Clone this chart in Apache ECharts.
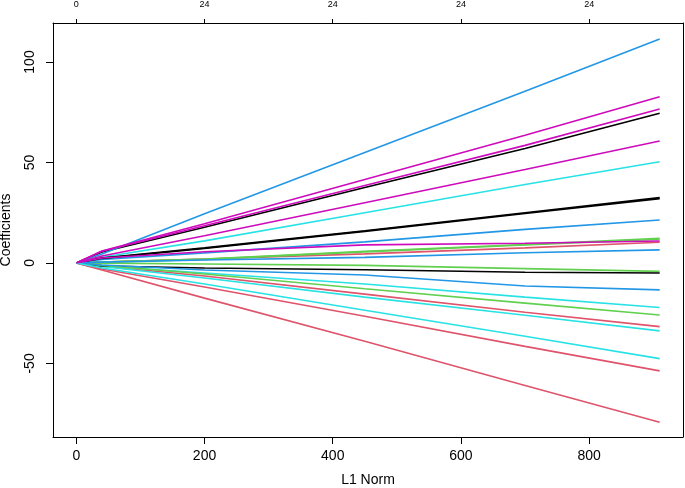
<!DOCTYPE html>
<html>
<head>
<meta charset="utf-8">
<script src="https://cdn.jsdelivr.net/npm/echarts@6/dist/echarts.min.js"></script>
<style>html,body{margin:0;padding:0;background:#fff}#c{width:685px;height:488px}</style>
</head>
<body>
<div id="c"></div>
<script>
// L1 norm positions where the coefficient path is sampled
var l1Norm = [0, 40, 200, 450, 700, 910];
// Bottom / top axis tick values and degrees-of-freedom labels
var xTicks = [0, 200, 400, 600, 800];
var dfLabels = ['0', '24', '24', '24', '24'];
var yTicks = [-50, 0, 50, 100];

// Coefficient paths (value at each l1Norm point), R matplot colour cycle
var pathColors = ['#000000', '#DF536B', '#61D04F', '#2297E6', '#28E2E5', '#CD0BBC'];
var coefBlack1 = [0, 5.5, 17.8, 37.5, 57.0, 74.5];
var coefBlack2 = [0, 2.5, 7.5, 16.0, 25.0, 32.5];
var coefBlack3 = [0, 2.3, 7.2, 15.7, 24.6, 32.0];
var coefBlack4 = [0, -1.5, -2.5, -3.4, -4.6, -5.0];
var coefRed1 = [0, 0.5, 2.0, 4.5, 7.5, 10.3];
var coefRed2 = [0, -1.5, -6.5, -15.5, -24.5, -31.7];
var coefRed3 = [0, -3.0, -12.0, -26.5, -41.5, -53.7];
var coefRed4 = [0, -3.5, -17.5, -39.0, -61.0, -79.3];
var coefGreen1 = [0, 0.4, 2.0, 5.8, 9.2, 12.3];
var coefGreen2 = [0, 0.4, 1.8, 5.5, 8.9, 11.8];
var coefGreen3 = [0, -0.1, -0.5, -1.2, -2.8, -4.2];
var coefGreen4 = [0, -1.2, -5.5, -12.8, -20.0, -25.9];
var coefBlue1 = [0, 4.5, 24.5, 55.0, 85.5, 111.4];
var coefBlue2 = [0, 1.8, 5.0, 10.5, 16.7, 21.4];
var coefBlue3 = [0, 0.4, 1.5, 2.8, 5.1, 6.5];
var coefBlue4 = [0, -1.0, -3.5, -6.0, -11.5, -13.4];
var coefCyan1 = [0, 2.8, 11.0, 25.0, 39.0, 50.4];
var coefCyan2 = [0, -1.5, -5.0, -10.5, -17.0, -22.2];
var coefCyan3 = [0, -1.8, -7.5, -17.0, -26.0, -33.8];
var coefCyan4 = [0, -2.5, -10.5, -23.5, -36.5, -47.6];
var coefMagenta1 = [0, 6.0, 19.5, 41.5, 63.5, 82.7];
var coefMagenta2 = [0, 5.8, 18.5, 38.5, 58.5, 76.6];
var coefMagenta3 = [0, 3.5, 13.5, 30.0, 46.5, 60.7];
var coefMagenta4 = [0, 2.5, 5.6, 9.0, 9.8, 10.9];

var paths = [
  coefBlack1, coefRed1, coefGreen1, coefBlue1, coefCyan1, coefMagenta1,
  coefBlack2, coefRed2, coefGreen2, coefBlue2, coefCyan2, coefMagenta2,
  coefBlack3, coefRed3, coefGreen3, coefBlue3, coefCyan3, coefMagenta3,
  coefBlack4, coefRed4, coefGreen4, coefBlue4, coefCyan4, coefMagenta4
];

var series = paths.map(function (vals, i) {
  return {
    type: 'line',
    xAxisIndex: 0, yAxisIndex: 0,
    data: l1Norm.map(function (x, j) { return [x, vals[j]]; }),
    showSymbol: false, symbol: 'none',
    lineStyle: { color: pathColors[i % 6], width: 1.6 },
    silent: true, animation: false, z: 2
  };
});

var font = 'Liberation Sans, Arial, sans-serif';
var chart = echarts.init(document.getElementById('c'));
chart.setOption({
  animation: false,
  backgroundColor: '#fff',
  grid: { left: 53, right: 2, top: 23, bottom: 51, containLabel: false, outerBoundsMode: 'none' },
  xAxis: [{
    type: 'value', position: 'bottom', min: -36.4, max: 946.4,
    axisLine: { show: true, onZero: false, lineStyle: { color: '#000', width: 1 } },
    axisTick: { show: true, customValues: xTicks, length: 7, lineStyle: { color: '#000' } },
    axisLabel: { customValues: xTicks, margin: 12, fontSize: 14, color: '#000', fontFamily: font },
    splitLine: { show: false },
    name: 'L1 Norm', nameLocation: 'middle', nameGap: 36,
    nameTextStyle: { fontSize: 14, color: '#000', fontFamily: font }
  }, {
    type: 'value', position: 'top', min: -36.4, max: 946.4,
    axisLine: { show: true, onZero: false, lineStyle: { color: '#000', width: 1 } },
    axisTick: { show: true, customValues: xTicks, length: 4, lineStyle: { color: '#000' } },
    axisLabel: {
      customValues: xTicks, margin: 14, fontSize: 9, color: '#000', fontFamily: font,
      formatter: function (v) { var k = xTicks.indexOf(v); return k >= 0 ? dfLabels[k] : ''; }
    },
    splitLine: { show: false }
  }],
  yAxis: [{
    type: 'value', position: 'left', min: -86.6, max: 119.4,
    axisLine: { show: true, onZero: false, lineStyle: { color: '#000', width: 1 } },
    axisTick: { show: true, customValues: yTicks, length: 7, lineStyle: { color: '#000' } },
    axisLabel: { customValues: yTicks, margin: 16, rotate: 90, fontSize: 14, color: '#000', fontFamily: font },
    splitLine: { show: false },
    name: 'Coefficients', nameLocation: 'middle', nameGap: 40, nameRotate: 90,
    nameTextStyle: { fontSize: 14, color: '#000', fontFamily: font }
  }, {
    type: 'value', position: 'right', min: -86.6, max: 119.4,
    axisLine: { show: true, onZero: false, lineStyle: { color: '#000', width: 1 } },
    axisTick: { show: false }, axisLabel: { show: false }, splitLine: { show: false }
  }],
  series: series
});
</script>
</body>
</html>
